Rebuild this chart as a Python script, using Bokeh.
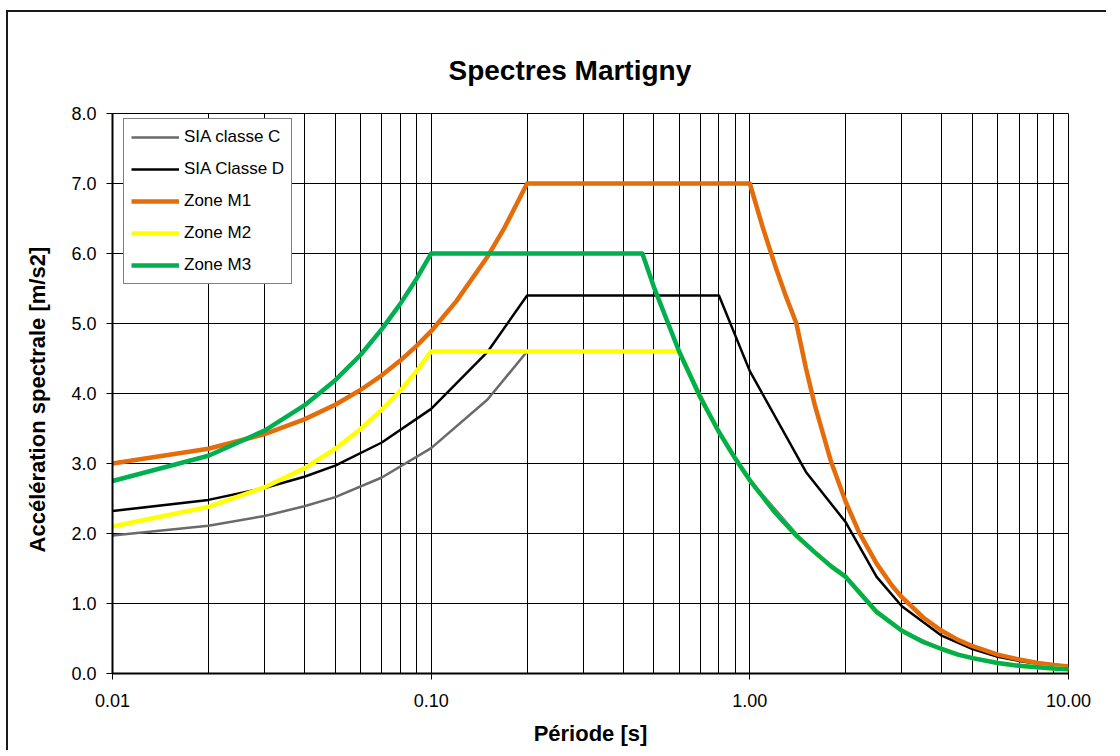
from bokeh.plotting import figure
from bokeh.models import (Range1d, FixedTicker, NumeralTickFormatter, Legend,
                          LegendItem)
from bokeh.embed import file_html
from bokeh.resources import INLINE

# ---- data ----
T_C = [0.01, 0.02, 0.03, 0.04, 0.05, 0.07, 0.10, 0.15, 0.20, 0.60, 0.80, 1.0,
       1.5, 2.0, 2.5, 3.0, 4.0, 5.0, 6.0, 7.0, 8.0, 10.0]
SIA_C = [1.97, 2.11, 2.25, 2.39, 2.52, 2.80, 3.22, 3.91, 4.60, 4.60, 3.45, 2.76,
         1.84, 1.38, 0.88, 0.61, 0.35, 0.22, 0.15, 0.11, 0.09, 0.06]

T_D = [0.01, 0.02, 0.03, 0.04, 0.05, 0.07, 0.10, 0.15, 0.20, 0.80, 1.0, 1.5,
       2.0, 2.5, 3.0, 4.0, 5.0, 6.0, 7.0, 8.0, 10.0]
SIA_D = [2.32, 2.48, 2.65, 2.81, 2.97, 3.30, 3.78, 4.59, 5.40, 5.40, 4.32, 2.88,
         2.16, 1.38, 0.96, 0.54, 0.35, 0.24, 0.18, 0.14, 0.09]

T_M1 = [0.01, 0.02, 0.03, 0.04, 0.05, 0.06, 0.07, 0.08, 0.09, 0.10, 0.12, 0.15,
        0.17, 0.20, 1.0, 1.1, 1.2, 1.3, 1.4, 1.5, 1.6, 1.8, 2.0, 2.2, 2.5, 2.8,
        3.0, 3.5, 4.0, 4.5, 5.0, 6.0, 7.0, 8.0, 9.0, 10.0]
M1 = [3.00, 3.21, 3.42, 3.63, 3.84, 4.05, 4.26, 4.47, 4.68, 4.89, 5.32, 5.95,
      6.37, 7.00, 7.00, 6.36, 5.83, 5.38, 5.00, 4.36, 3.83, 3.02, 2.45, 2.02,
      1.57, 1.25, 1.09, 0.80, 0.61, 0.48, 0.39, 0.27, 0.20, 0.15, 0.12, 0.10]

T_M2 = [0.01, 0.02, 0.03, 0.04, 0.05, 0.06, 0.07, 0.08, 0.09, 0.10, 0.60, 0.70,
        0.80, 0.90, 1.0, 1.2, 1.4, 1.6, 1.8, 2.0, 2.5, 3.0, 3.5, 4.0, 4.5, 5.0,
        6.0, 7.0, 8.0, 9.0, 10.0]
M2 = [2.10, 2.38, 2.66, 2.93, 3.21, 3.49, 3.77, 4.04, 4.32, 4.60, 4.60, 3.94,
      3.45, 3.07, 2.76, 2.30, 1.97, 1.73, 1.53, 1.38, 0.88, 0.61, 0.45, 0.35,
      0.27, 0.22, 0.15, 0.11, 0.09, 0.07, 0.06]

T_M3 = [0.01, 0.02, 0.03, 0.04, 0.05, 0.06, 0.07, 0.08, 0.09, 0.10, 0.46, 0.50,
        0.60, 0.70, 0.80, 0.90, 1.0, 1.2, 1.4, 1.6, 1.8, 2.0, 2.5, 3.0, 3.5, 4.0,
        4.5, 5.0, 6.0, 7.0, 8.0, 9.0, 10.0]
M3 = [2.75, 3.11, 3.47, 3.83, 4.19, 4.55, 4.92, 5.28, 5.64, 6.00, 6.00, 5.52,
      4.60, 3.94, 3.45, 3.07, 2.76, 2.30, 1.97, 1.73, 1.53, 1.38, 0.88, 0.61,
      0.45, 0.35, 0.27, 0.22, 0.15, 0.11, 0.09, 0.07, 0.06]

SERIES_NAMES = ["SIA classe C", "SIA Classe D", "Zone M1", "Zone M2", "Zone M3"]
X_MAJOR = [0.01, 0.1, 1.0, 10.0]
X_MINOR = [0.02, 0.03, 0.04, 0.05, 0.06, 0.07, 0.08, 0.09,
           0.2, 0.3, 0.4, 0.5, 0.6, 0.7, 0.8, 0.9,
           2, 3, 4, 5, 6, 7, 8, 9]
Y_TICKS = [0, 1, 2, 3, 4, 5, 6, 7, 8]

TITLE = "Spectres Martigny"
X_LABEL = "Période [s]"
Y_LABEL = "Accélération  spectrale  [m/s2]"

FONT = "Liberation Sans"

p = figure(width=1100, height=740, x_axis_type="log",
           x_range=Range1d(0.01, 10), y_range=Range1d(0, 8),
           output_backend="svg", toolbar_location=None,
           min_border_left=104, min_border_top=101, min_border_right=40,
           min_border_bottom=79)
p.styles = {"margin-left": "6px", "margin-top": "10px",
            "border-left": "2px solid #1a1a1a", "border-top": "2px solid #1a1a1a"}
p.background_fill_color = "white"
p.border_fill_color = "white"
p.outline_line_color = "black"
p.outline_line_width = 1

p.title.text = TITLE
p.title.align = "left"
p.title.offset = 336
p.title.standoff = 55
p.title.text_font = FONT
p.title.text_font_style = "bold"
p.title.text_font_size = "28px"
p.title.text_color = "black"

xt = FixedTicker(ticks=X_MAJOR, minor_ticks=X_MINOR)
p.xaxis.ticker = xt
p.xgrid.ticker = xt
p.yaxis.ticker = FixedTicker(ticks=Y_TICKS)
p.ygrid.ticker = FixedTicker(ticks=Y_TICKS)

p.xgrid.grid_line_color = "black"
p.xgrid.grid_line_width = 1
p.xgrid.minor_grid_line_color = "black"
p.xgrid.minor_grid_line_width = 1
p.ygrid.grid_line_color = "black"
p.ygrid.grid_line_width = 1

p.xaxis.formatter = NumeralTickFormatter(format="0.00")
p.yaxis.formatter = NumeralTickFormatter(format="0.0")

for ax in (p.xaxis[0], p.yaxis[0]):
    ax.axis_line_color = "black"
    ax.axis_line_width = 2
    ax.major_tick_line_color = "black"
    ax.major_tick_line_width = 1
    ax.major_tick_out = 6
    ax.major_tick_in = 0
    ax.minor_tick_line_color = None
    ax.major_label_text_font = FONT
    ax.major_label_text_font_size = "18px"
    ax.major_label_text_color = "black"
    ax.axis_label_text_font = FONT
    ax.axis_label_text_font_style = "bold"
    ax.axis_label_text_font_size = "22px"
    ax.axis_label_text_color = "black"

p.xaxis.axis_label = X_LABEL
p.yaxis.axis_label = Y_LABEL
p.xaxis.major_label_standoff = 14
p.yaxis.major_label_standoff = 10
p.xaxis.axis_label_standoff = 11
p.yaxis.axis_label_standoff = 18

colors = ["#6a6a6a", "#000000", "#E46C0A", "#FFFF00", "#00B050"]
widths = [2.5, 2.5, 4.5, 4.5, 4.5]
xs = [T_C, T_D, T_M1, T_M2, T_M3]
ys = [SIA_C, SIA_D, M1, M2, M3]

items = []
for name, xv, yv, c, w in zip(SERIES_NAMES, xs, ys, colors, widths):
    r = p.line(xv, yv, line_color=c, line_width=w, line_join="round")
    items.append(LegendItem(label=name, renderers=[r]))

legend = Legend(items=items, location=(11, 389))
legend.label_text_font = FONT
legend.label_text_font_size = "17px"
legend.label_text_color = "black"
legend.glyph_width = 48
legend.glyph_height = 22
legend.label_height = 22
legend.spacing = 10
legend.padding = 7
legend.margin = 0
legend.label_standoff = 5
legend.border_line_color = "black"
legend.border_line_width = 1
legend.background_fill_color = "white"
legend.background_fill_alpha = 1
p.add_layout(legend, "center")

open("out.html", "w").write(file_html(p, INLINE))
